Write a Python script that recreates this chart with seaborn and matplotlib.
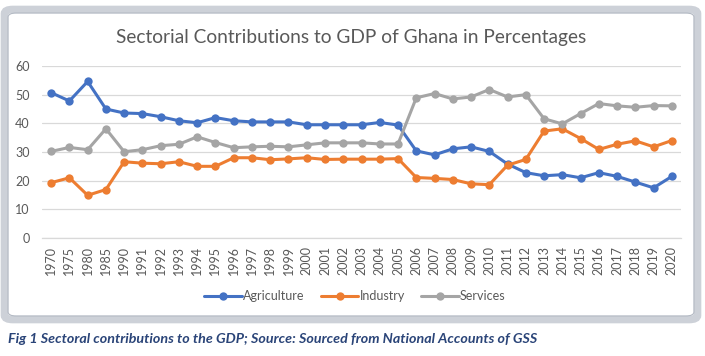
import matplotlib
matplotlib.use("Agg")
import matplotlib.pyplot as plt
import seaborn as sns
import pandas as pd
from matplotlib.patches import FancyBboxPatch

years = ["1970", "1975", "1980", "1985"] + [str(y) for y in range(1990, 2021)]

agriculture = [50.7, 47.8, 54.6, 45.0, 43.6, 43.4, 42.3, 40.9, 40.2, 42.0,
               40.9, 40.5, 40.5, 40.5, 39.5, 39.5, 39.5, 39.5, 40.3, 39.4,
               30.4, 29.0, 31.1, 31.8, 30.2, 25.8, 22.8, 21.7, 22.1, 21.0,
               22.8, 21.5, 19.5, 17.5, 21.5]
industry = [19.3, 21.0, 14.9, 16.9, 26.6, 26.1, 25.9, 26.6, 25.0, 25.0,
            28.0, 28.0, 27.3, 27.6, 28.0, 27.4, 27.5, 27.5, 27.5, 27.7,
            21.1, 20.8, 20.4, 18.9, 18.6, 25.4, 27.4, 37.3, 38.1, 34.7,
            30.9, 32.7, 33.9, 31.8, 34.0]
services = [30.2, 31.6, 30.8, 38.1, 30.1, 30.8, 32.2, 32.7, 35.3, 33.3,
            31.5, 31.8, 32.0, 31.8, 32.5, 33.2, 33.2, 33.2, 32.8, 32.8,
            48.9, 50.4, 48.5, 49.2, 51.8, 49.2, 50.0, 41.6, 39.8, 43.4,
            46.9, 46.1, 45.6, 46.2, 46.1]

series_names = ["Agriculture", "Industry", "Services"]
colors = ["#4472C4", "#ED7D31", "#A5A5A5"]
title = "Sectorial Contributions to GDP of Ghana in Percentages"
caption = "Fig 1 Sectoral contributions to the GDP; Source: Sourced from National Accounts of GSS"

df = pd.DataFrame({
    "Year": years * 3,
    "Value": agriculture + industry + services,
    "Sector": [series_names[0]] * len(years) + [series_names[1]] * len(years) + [series_names[2]] * len(years),
})

sns.set_theme(style="white")
plt.rcParams["font.family"] = ["Lato", "DejaVu Sans"]
txt = "#595959"

fig = plt.figure(figsize=(7.05, 3.56), dpi=100)
fig.patch.set_facecolor("white")

# frame of the chart object
frame = FancyBboxPatch((4.5 / 705, 1 - 319.5 / 356), 693 / 705, 310 / 356,
                       boxstyle="round,pad=0,rounding_size=0.012",
                       transform=fig.transFigure, facecolor="white",
                       edgecolor="#CDD1D8", linewidth=5.5, zorder=-2)
fig.patches.append(frame)
frame2 = FancyBboxPatch((8 / 705, 1 - 316 / 356), 686 / 705, 303 / 356,
                        boxstyle="round,pad=0,rounding_size=0.012",
                        transform=fig.transFigure, facecolor="none",
                        edgecolor="#B4BAC4", linewidth=0.8, zorder=-1)
fig.patches.append(frame2)

ax = fig.add_axes([42 / 705, 1 - 238 / 356, (681 - 42) / 705, (238 - 66) / 356])
ax.set_facecolor("none")
ax.set_zorder(2)

sns.lineplot(data=df, x="Year", y="Value", hue="Sector", hue_order=series_names,
             palette=colors, marker="o", markersize=6, markeredgewidth=0,
             linewidth=2.2, sort=False, ax=ax, legend=True)

ax.set_xlim(-0.5, len(years) - 0.5)
ax.set_ylim(0, 60)
ax.set_yticks(range(0, 61, 10))
ax.yaxis.grid(True, color="#D9D9D9", linewidth=0.9)
ax.xaxis.grid(False)
ax.set_axisbelow(True)
for s in ["top", "right", "left"]:
    ax.spines[s].set_visible(False)
ax.spines["bottom"].set_color("#D9D9D9")
ax.spines["bottom"].set_linewidth(0.9)
ax.tick_params(axis="both", length=0, colors=txt, labelsize=9)
ax.tick_params(axis="x", rotation=90, pad=6)
ax.tick_params(axis="y", pad=9)
ax.set_xlabel("")
ax.set_ylabel("")

handles, labels = ax.get_legend_handles_labels()
ax.legend(handles, labels, loc="center", bbox_to_anchor=(355 / 705, 1 - 296 / 356),
          bbox_transform=fig.transFigure, ncol=3, frameon=False, fontsize=9,
          labelcolor=txt, handlelength=3.0, handletextpad=0.1, columnspacing=1.3)

fig.text(351 / 705, 1 - 37 / 356, title, ha="center", va="center", fontsize=13.8,
         color=txt, fontweight="normal")
fig.text(8 / 705, 1 - 339 / 356, caption, ha="left", va="center", fontsize=10.3,
         color="#2A4478", fontweight="bold", fontstyle="italic")

fig.savefig("out.png", dpi=100, facecolor="white")
